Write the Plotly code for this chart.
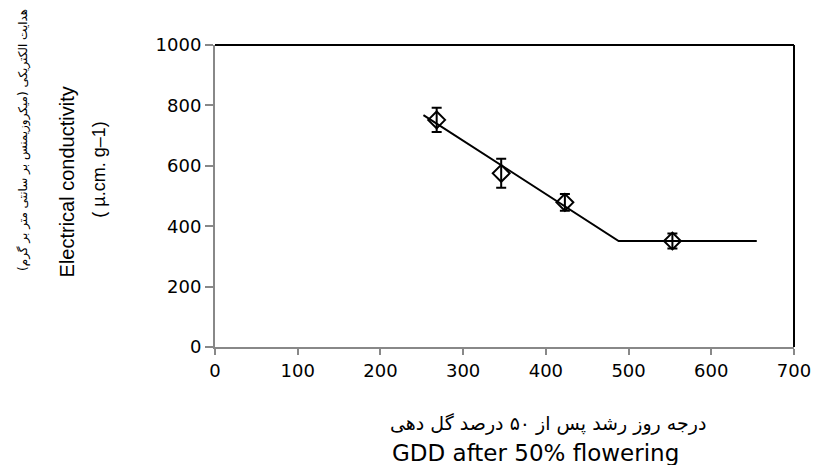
import plotly.graph_objects as go

# Data
gdd = [268, 346, 423, 553]
ec = [752, 575, 479, 351]
ec_err = [40, 48, 28, 25]

fit_x = [252, 488, 655]
fit_y = [768, 351, 351]

x_ticks = [0, 100, 200, 300, 400, 500, 600, 700]
y_ticks = [0, 200, 400, 600, 800, 1000]

fa_y = "هدایت الکتریکی (میکروزیمنس بر سانتی متر بر گرم)"
en_y1 = "Electrical conductivity"
en_y2 = "( µ.cm. g–1)"
fa_x = "درجه روز رشد پس از ۵۰ درصد گل دهی"
en_x = "GDD after 50% flowering"

fig = go.Figure()
fig.add_trace(go.Scatter(x=fit_x, y=fit_y, mode="lines",
                         line=dict(color="black", width=2), showlegend=False))
fig.add_trace(go.Scatter(x=gdd, y=ec, mode="markers",
                         marker=dict(symbol="diamond-open", size=13, color="black",
                                     line=dict(width=2, color="black")),
                         error_y=dict(type="data", array=ec_err, color="black",
                                      thickness=2, width=5),
                         showlegend=False))

tickfont = dict(family="DejaVu Sans", size=18, color="black")
fig.update_xaxes(range=[0, 700], tickvals=x_ticks, showline=True, linecolor="#888888",
                 linewidth=2, ticks="outside", tickcolor="#888888", ticklen=6,
                 tickwidth=2, showgrid=False, zeroline=False, tickfont=tickfont,
                 automargin=False)
fig.update_yaxes(range=[0, 1000], tickvals=y_ticks, showline=True, linecolor="#888888",
                 linewidth=2, ticks="outside", tickcolor="#888888", ticklen=8,
                 tickwidth=2, showgrid=False, zeroline=False, tickfont=tickfont,
                 automargin=False)

fig.add_shape(type="line", xref="paper", yref="paper", x0=0, x1=1, y0=1, y1=1,
              line=dict(color="black", width=2))
fig.add_shape(type="line", xref="paper", yref="paper", x0=1, x1=1, y0=0, y1=1,
              line=dict(color="black", width=2))

# Axis titles as annotations
fig.add_annotation(text=fa_y, xref="paper", yref="paper", x=-0.332, y=0.685,
                   textangle=-90, showarrow=False,
                   font=dict(family="DejaVu Sans", size=12, color="black"),
                   xanchor="center", yanchor="middle")
fig.add_annotation(text=en_y1, xref="paper", yref="paper", x=-0.255, y=0.546,
                   textangle=-90, showarrow=False,
                   font=dict(family="Liberation Sans", size=20, color="black"),
                   xanchor="center", yanchor="middle")
fig.add_annotation(text=en_y2, xref="paper", yref="paper", x=-0.201, y=0.586,
                   textangle=-90, showarrow=False,
                   font=dict(family="Liberation Sans", size=18, color="black"),
                   xanchor="center", yanchor="middle")
fig.add_annotation(text=fa_x, xref="paper", yref="paper", x=0.575, y=-0.252,
                   showarrow=False,
                   font=dict(family="DejaVu Sans", size=19, color="black"),
                   xanchor="center", yanchor="middle")
fig.add_annotation(text=en_x, xref="paper", yref="paper", x=0.553, y=-0.351,
                   showarrow=False,
                   font=dict(family="DejaVu Sans", size=23, color="black"),
                   xanchor="center", yanchor="middle")

fig.update_layout(width=816, height=465, margin=dict(l=215, r=22, t=45, b=118),
                  plot_bgcolor="white", paper_bgcolor="white")

fig.write_html("out.html", config={"displayModeBar": False})

# remove default page margin so the figure sits at the window's top-left corner
with open("out.html", "r", encoding="utf-8") as f:
    html = f.read()
html = html.replace("<body>", '<body style="margin:0;padding:0;overflow:hidden">', 1)
with open("out.html", "w", encoding="utf-8") as f:
    f.write(html)
